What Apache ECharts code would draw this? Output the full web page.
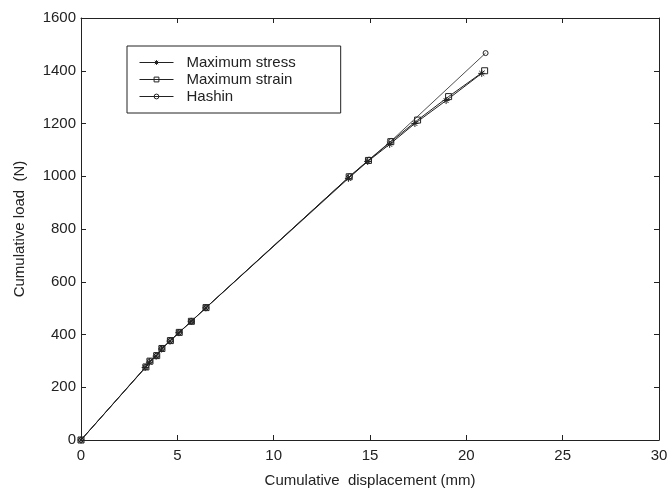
<!DOCTYPE html>
<html>
<head>
<meta charset="utf-8">
<script src="https://cdn.jsdelivr.net/npm/echarts@6/dist/echarts.min.js"></script>
<style>
  html, body { margin: 0; padding: 0; background: #fff; }
  #chart { width: 671px; height: 493px; }
</style>
</head>
<body>
<div id="chart"></div>
<script>
// values
const stressX = [0, 3.33, 3.55, 3.9, 4.18, 4.62, 5.08, 5.72, 6.48, 13.88, 14.88, 16.02, 17.33, 18.95, 20.8];
const stressY = [0, 275, 295, 318, 345, 375, 407, 450, 501, 992, 1056, 1121, 1200, 1287, 1390];
const strainX = [0, 3.37, 3.58, 3.93, 4.2, 4.64, 5.1, 5.73, 6.49, 13.92, 14.92, 16.08, 17.47, 19.08, 20.95];
const strainY = [0, 277, 299, 320, 347, 377, 408, 450, 502, 998, 1060, 1131, 1213, 1302, 1400];
const hashinX = [0, 3.37, 3.58, 3.93, 4.2, 4.64, 5.1, 5.73, 6.49, 13.95, 14.95, 16.1, 21.0];
const hashinY = [0, 277, 299, 320, 347, 377, 408, 450, 502, 1000, 1063, 1134, 1467];

const ink = '#222';
const font = 'Liberation Sans, Arial, sans-serif';
const zip = (xs, ys) => xs.map((x, i) => [x, ys[i]]);

// asterisk marker, stroked only
const star = 'path://M0 5 L10 5 M5 0 L5 10 M1.5 1.5 L8.5 8.5 M8.5 1.5 L1.5 8.5';

const chart = echarts.init(document.getElementById('chart'));

const tickStyle = { inside: true, length: 5, lineStyle: { color: ink, width: 1 } };
const lineAxis = { show: true, onZero: false, lineStyle: { color: ink, width: 1 } };
const labelStyle = { fontFamily: font, fontSize: 15, color: ink };

const option = {
    backgroundColor: '#fff',
    animation: false,
    grid: { left: 81, right: 12, top: 18, bottom: 52 },
    legend: {
        orient: 'vertical',
        left: 127,
        top: 46,
        padding: [9, 45, 9, 12],
        itemGap: 2,
        itemWidth: 34,
        itemHeight: 6,
        borderColor: ink,
        borderWidth: 1,
        backgroundColor: '#fff',
        lineStyle: { width: 1, color: ink },
        itemStyle: { color: 'none', borderColor: ink, borderWidth: 1 },
        textStyle: { fontFamily: font, fontSize: 15, color: ink, padding: [0, 0, 0, 8], lineHeight: 15 },
        data: ['Maximum stress', 'Maximum strain', 'Hashin']
    },
    xAxis: [
        {
            type: 'value', min: 0, max: 30, interval: 5,
            name: 'Cumulative  displacement (mm)',
            nameLocation: 'middle', nameGap: 33,
            nameTextStyle: labelStyle,
            axisLine: lineAxis, axisTick: tickStyle,
            axisLabel: Object.assign({ margin: 8 }, labelStyle),
            splitLine: { show: false }
        },
        {
            type: 'value', min: 0, max: 30, interval: 5, position: 'top',
            axisLine: lineAxis, axisTick: tickStyle,
            axisLabel: { show: false }, splitLine: { show: false }
        }
    ],
    yAxis: [
        {
            type: 'value', min: 0, max: 1600, interval: 200,
            name: 'Cumulative load  (N)',
            nameLocation: 'middle', nameGap: 54,
            nameTextStyle: labelStyle,
            axisLine: lineAxis, axisTick: tickStyle,
            axisLabel: Object.assign({ margin: 5, formatter: v => String(v) }, labelStyle),
            splitLine: { show: false }
        },
        {
            type: 'value', min: 0, max: 1600, interval: 200, position: 'right',
            axisLine: lineAxis, axisTick: tickStyle,
            axisLabel: { show: false }, splitLine: { show: false }
        }
    ],
    series: [
        {
            name: 'Maximum stress', type: 'line', data: zip(stressX, stressY),
            symbol: star, symbolSize: 7,
            lineStyle: { color: ink, width: 1 },
            itemStyle: { color: 'none', borderColor: ink, borderWidth: 1 }
        },
        {
            name: 'Maximum strain', type: 'line', data: zip(strainX, strainY),
            symbol: 'rect', symbolSize: 6,
            lineStyle: { color: ink, width: 1 },
            itemStyle: { color: 'none', borderColor: ink, borderWidth: 1 }
        },
        {
            name: 'Hashin', type: 'line', data: zip(hashinX, hashinY),
            symbol: 'circle', symbolSize: 5,
            lineStyle: { color: ink, width: 0.8 },
            itemStyle: { color: 'none', borderColor: ink, borderWidth: 1 }
        }
    ]
};

chart.setOption(option);
</script>
</body>
</html>
